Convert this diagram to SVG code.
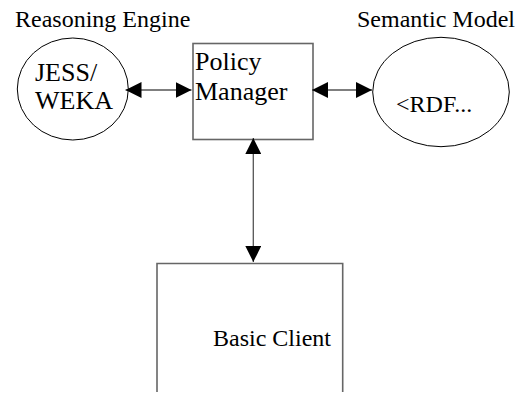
<svg xmlns="http://www.w3.org/2000/svg" width="517" height="402" viewBox="0 0 517 402">
<style>
text{font-family:"Liberation Serif","DejaVu Serif","Times New Roman",Times,serif;fill:#000}
.ell{fill:none;stroke:#000;stroke-width:1}
.box{fill:none;stroke:#666;stroke-width:1.6}
.conn{stroke:#555;stroke-width:1.3;fill:none;marker-start:url(#ah);marker-end:url(#ah)}
</style>
<defs>
<marker id="ah" markerUnits="userSpaceOnUse" markerWidth="16" markerHeight="16" refX="14" refY="7" orient="auto-start-reverse" viewBox="0 0 14 14">
<path d="M0,0 L14,7 L0,14 z" fill="#000"/>
</marker>
</defs>
<rect width="517" height="402" fill="#fff"/>
<g id="reasoning-engine">
<text x="15" y="27" font-size="24" font-family="Liberation Serif, serif">Reasoning Engine</text>
<ellipse class="ell" cx="72.8" cy="89" rx="55.5" ry="51"/>
<text x="35" y="81" font-size="26" font-family="Liberation Serif, serif">JESS/</text>
<text x="35" y="109" font-size="26" font-family="Liberation Serif, serif">WEKA</text>
</g>
<g id="policy-manager">
<rect class="box" x="193" y="43.5" width="120" height="96"/>
<text x="195" y="70" font-size="26" font-family="Liberation Serif, serif">Policy</text>
<text x="195" y="100" font-size="26" font-family="Liberation Serif, serif">Manager</text>
</g>
<g id="semantic-model">
<text x="357" y="27" font-size="24" font-family="Liberation Serif, serif">Semantic Model</text>
<ellipse class="ell" cx="441" cy="92" rx="68.3" ry="54.7"/>
<text x="396" y="112" font-size="24" font-family="Liberation Serif, serif">&lt;RDF...</text>
</g>
<g id="basic-client">
<path class="box" d="M157,392 V263.5 H342.7 V392"/>
<text x="213" y="346" font-size="24" font-family="Liberation Serif, serif">Basic Client</text>
</g>
<g id="connectors">
<line class="conn" x1="125.5" y1="90" x2="191.5" y2="90"/>
<line class="conn" x1="312" y1="90" x2="372" y2="90"/>
<line class="conn" x1="253.3" y1="138" x2="253.3" y2="262"/>
</g>
</svg>
